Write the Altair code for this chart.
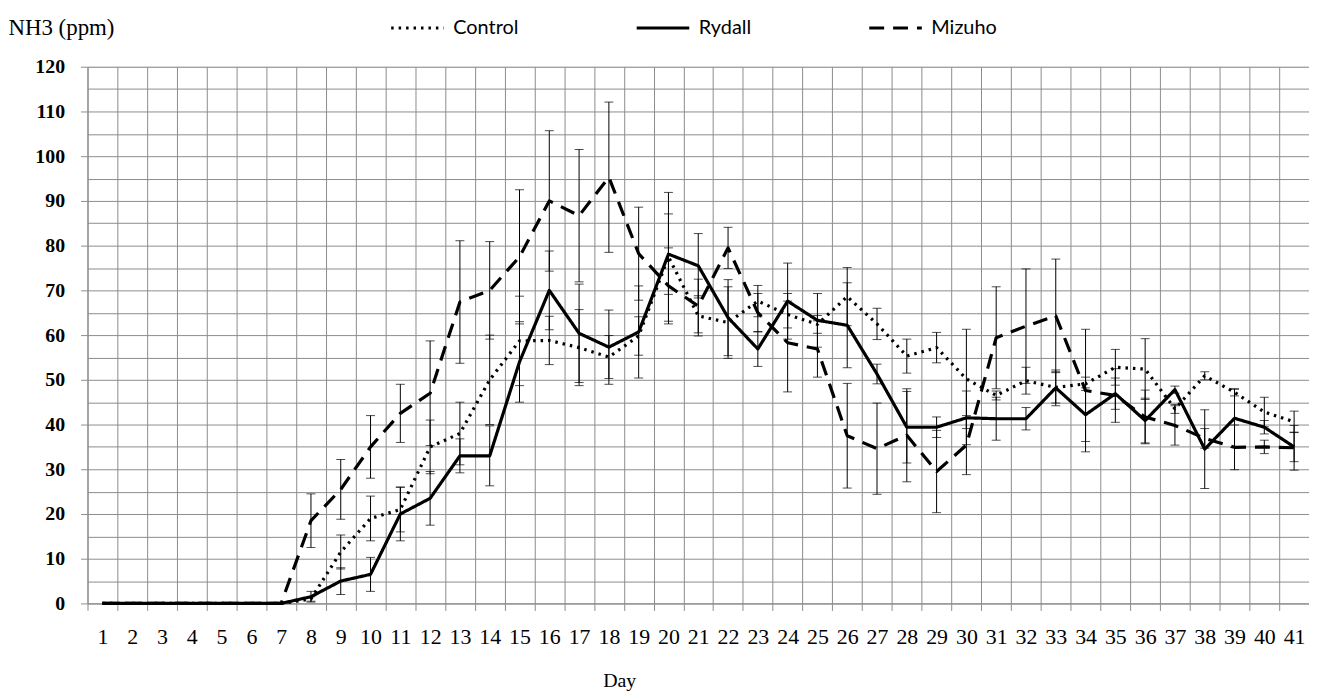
import altair as alt
import pandas as pd

days = list(range(1, 42))
series_names = ["Control", "Rydall", "Mizuho"]
z7 = [0] * 7

control = z7 + [1, 11.5, 19, 21, 35, 38, 50, 58.7, 58.8, 57.2, 55.1, 59.8, 77.5, 64.3, 62.8, 67.6, 64.6,
                62.4, 68.6, 62.5, 55.3, 57.2, 50.2, 46.5, 49.8, 48.3, 49.1, 52.8, 52.4, 43.5, 50.9, 47.2,
                42.8, 40.6]
control_sd = z7 + [0.5, 3.8, 5, 5, 6, 7, 10, 10, 5.4, 8.5, 4.8, 4.3, 14.4, 4.5, 8, 3.5, 3, 2, 6.5, 3.5,
                   3.8, 3.4, 11.1, 1, 3, 3.5, 1.5, 4, 6.8, 1, 0.9, 0.8, 3.3, 2.4]

rydall = z7 + [1.5, 5, 6.5, 20, 23.5, 33, 33, 54, 70, 60.4, 57.3, 60.7, 78.1, 75.5, 63.9, 56.9, 67.6,
               63.3, 62.2, 51.3, 39.4, 39.4, 41.5, 41.3, 41.3, 48.2, 42.2, 46.9, 40.9, 47.8, 34.5, 41.4,
               39.4, 35]
rydall_sd = z7 + [1.2, 3, 3.8, 6, 6, 3.8, 6.7, 9, 8.8, 11, 8.3, 10.3, 9, 7.2, 8.5, 3.9, 8.5, 6, 9.5, 2.2,
                  8, 2.3, 6, 4.8, 2.5, 4, 6, 3.5, 5, 0.8, 8.8, 6.5, 1.5, 3.3]

mizuho = z7 + [18.5, 25.5, 35, 42.5, 47, 67.4, 70, 77.5, 90, 86.7, 95.3, 78.2, 71, 66.5, 79.5, 65, 58.3,
               56.9, 37.5, 34.6, 37.6, 29.5, 35.4, 59.4, 62, 64.3, 47.6, 46.5, 41.7, 39.8, 36.9, 34.9,
               35, 34.8]
mizuho_sd = z7 + [6, 6.7, 7, 6.5, 11.7, 13.7, 10.9, 15, 15.7, 14.8, 16.8, 10.4, 8.5, 6, 4.6, 4.3, 11,
                  6.3, 11.7, 10.2, 10.4, 9.2, 6.6, 11.4, 12.8, 12.7, 13.7, 6, 6, 4.4, 2.2, 5, 1.5, 5]

y_ticks = list(range(0, 125, 5))

rows = []
for name, vals, sds in zip(series_names, [control, rydall, mizuho], [control_sd, rydall_sd, mizuho_sd]):
    for d, v, s in zip(days, vals, sds):
        rows.append({"Day": d, "Series": name, "Value": v, "SD": s, "Lo": v - s, "Hi": v + s})
df = pd.DataFrame(rows)
err = df[df["SD"] > 0]

GRID = "#8c8c8c"
SERIF = "Liberation Serif"

xscale = alt.Scale(type="band", domain=days, paddingInner=0, paddingOuter=0)
xaxis = alt.Axis(
    title="Day", titleFont=SERIF, titleFontSize=20, titleFontWeight="normal", titleColor="black",
    titleX=535, titleY=84, titleBaseline="alphabetic", titleAlign="center",
    labelFont=SERIF, labelFontSize=22, labelColor="black", labelAngle=0, labelOverlap=False,
    labelPadding=16, tickBand="extent", tickSize=7, tickColor=GRID, grid=True, gridColor=GRID,
    gridWidth=1, gridOpacity=1, domainColor=GRID,
)
yscale = alt.Scale(domain=[0, 120], nice=False)
yaxis = alt.Axis(
    title="NH3 (ppm)", titleFont=SERIF, titleFontSize=23, titleFontWeight="normal", titleColor="black",
    titleAngle=0, titleX=-80, titleY=-32, titleAlign="left", titleBaseline="alphabetic",
    values=y_ticks, labelExpr="datum.value % 10 === 0 ? datum.label : ''",
    labelFont=SERIF, labelFontSize=20, labelFontWeight="bold", labelColor="black", labelPadding=16,
    tickSize=7, tickColor=GRID,
    tickOpacity={"condition": {"test": "datum.value % 10 === 0", "value": 1}, "value": 0},
    grid=True, gridColor=GRID, gridWidth=1, gridOpacity=1, domainColor=GRID,
)

x_enc = alt.X("Day:O", scale=xscale, axis=xaxis, bandPosition=0.5)

lines = alt.Chart(df).mark_line(color="black", strokeWidth=3.2, strokeJoin="round").encode(
    x=x_enc,
    y=alt.Y("Value:Q", scale=yscale, axis=yaxis),
    strokeDash=alt.StrokeDash(
        "Series:N",
        scale=alt.Scale(domain=series_names, range=[[2.5, 5], [1, 0], [15, 9]]),
        legend=alt.Legend(
            title=None, orient="none", direction="horizontal", legendX=304, legendY=-67,
            symbolType="stroke", symbolSize=2800, symbolStrokeWidth=3, symbolStrokeColor="black",
            labelFont="Lato", labelFontSize=20, labelColor="black", labelOffset=8,
            columnPadding=112, padding=0,
        ),
    ),
    detail="Series:N",
)

bars = alt.Chart(err).mark_rule(color="black", strokeWidth=1).encode(
    x=x_enc,
    y=alt.Y("Lo:Q", scale=yscale, axis=yaxis),
    y2="Hi:Q",
)
caps_lo = alt.Chart(err).mark_tick(color="black", thickness=1, size=9).encode(
    x=x_enc, y=alt.Y("Lo:Q", scale=yscale, axis=yaxis)
)
caps_hi = alt.Chart(err).mark_tick(color="black", thickness=1, size=9).encode(
    x=x_enc, y=alt.Y("Hi:Q", scale=yscale, axis=yaxis)
)

chart = alt.layer(bars, caps_lo, caps_hi, lines).properties(
    width=1229, height=540,
    autosize=alt.AutoSizeParams(type="none"),
    padding={"left": 80, "top": 57, "right": 0, "bottom": 86},
).configure_view(stroke=None).configure(background="white")

chart.save("out.html", embed_options={"renderer": "svg", "actions": False})
